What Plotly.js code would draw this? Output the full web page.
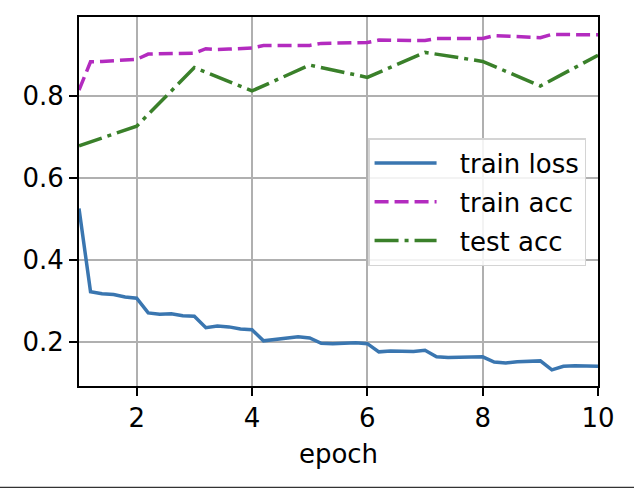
<!DOCTYPE html>
<html>
<head>
<meta charset="utf-8">
<script src="https://cdn.plot.ly/plotly-3.0.1.min.js"></script>
<style>html,body{margin:0;padding:0;background:#fff;}#plot{width:634px;height:488px;}</style>
</head>
<body>
<div id="plot"></div>
<script>
// fractional epochs at which train metrics were logged
const trainEpochs = [1.0,1.2,1.4,1.6,1.8,2.0,2.2,2.4,2.6,2.8,3.0,3.2,3.4,3.6,3.8,4.0,4.2,4.4,4.6,4.8,5.0,5.2,5.4,5.6,5.8,6.0,6.2,6.4,6.6,6.8,7.0,7.2,7.4,7.6,7.8,8.0,8.2,8.4,8.6,8.8,9.0,9.2,9.4,9.6,9.8,10.0];
const trainLoss = [0.526,0.323,0.318,0.316,0.310,0.307,0.271,0.268,0.269,0.264,0.263,0.235,0.239,0.237,0.232,0.230,0.203,0.206,0.210,0.213,0.210,0.197,0.196,0.197,0.198,0.196,0.176,0.178,0.177,0.177,0.180,0.164,0.162,0.163,0.165,0.164,0.151,0.149,0.152,0.154,0.154,0.132,0.141,0.142,0.141,0.141];
const trainAcc = [0.815,0.884,0.885,0.886,0.887,0.890,0.903,0.903,0.903,0.904,0.905,0.916,0.914,0.915,0.916,0.918,0.924,0.924,0.924,0.924,0.924,0.929,0.929,0.929,0.929,0.931,0.937,0.936,0.936,0.936,0.936,0.941,0.941,0.941,0.941,0.941,0.948,0.947,0.946,0.945,0.943,0.951,0.950,0.950,0.950,0.950];
const testEpochs = [1,2,3,4,5,6,7,8,9,10];
const testAcc = [0.679,0.727,0.870,0.813,0.876,0.846,0.907,0.885,0.825,0.900];
const seriesNames = ['train loss','train acc','test acc'];
const xTicks = [2,4,6,8,10];
const yTicks = [0.2,0.4,0.6,0.8];

const FONT = 'DejaVu Sans, Liberation Sans, sans-serif';
const FS = 26;
const PAD = '\u2002\u2009';
const traces = [
  {x: trainEpochs, y: trainLoss, name: PAD + seriesNames[0], mode:'lines', legendgroup:'a',
   line:{color:'#3a76b0', width:3.5}},
  {x: trainEpochs, y: trainAcc, name: PAD + seriesNames[1], mode:'lines', legendgroup:'b',
   line:{color:'#b32bbf', width:3.5, dash:'14px,6px'}},
  {x: testEpochs, y: testAcc, name: PAD + seriesNames[2], mode:'lines', legendgroup:'c',
   line:{color:'#3a802a', width:3.5, dash:'24px,6px,4px,6px'}}
];
const layout = {
  width:634, height:488,
  margin:{l:78.6, r:36, t:16.7, b:102},
  paper_bgcolor:'#fff', plot_bgcolor:'#fff',
  font:{family:FONT, size:FS, color:'#000'},
  showlegend:true,
  legend:{x:0.977, y:0.672, xanchor:'right', yanchor:'top',
    bgcolor:'rgba(255,255,255,0.85)', bordercolor:'#d4d4d4', borderwidth:1.5,
    font:{family:FONT, size:FS, color:'#000'}, traceorder:'grouped', tracegroupgap:2,
    itemwidth:62},
  xaxis:{range:[1,10], tickvals:xTicks, ticktext:xTicks.map(String),
    showgrid:true, gridcolor:'#b0b0b0', gridwidth:2,
    showline:true, linecolor:'#000', linewidth:2, mirror:true,
    ticks:'outside', ticklen:8, tickwidth:2, tickcolor:'#000',
    zeroline:false, title:{text:'epoch', font:{family:FONT, size:FS}, standoff:13},
    tickfont:{family:FONT, size:FS}},
  yaxis:{range:[0.0927,0.9934], tickvals:yTicks, ticktext:yTicks.map(v=>v.toFixed(1)),
    showgrid:true, gridcolor:'#b0b0b0', gridwidth:2,
    showline:true, linecolor:'#000', linewidth:2, mirror:true,
    ticks:'outside', ticklen:8, tickwidth:2, tickcolor:'#000',
    zeroline:false, tickfont:{family:FONT, size:FS}},
  shapes:[{type:'line', xref:'paper', yref:'paper', x0:-0.16, x1:1.08, y0:-0.2748, y1:-0.2748,
    line:{color:'#333', width:1.5}}]
};
Plotly.newPlot('plot', traces, layout, {staticPlot:true, displayModeBar:false});
</script>
</body>
</html>
